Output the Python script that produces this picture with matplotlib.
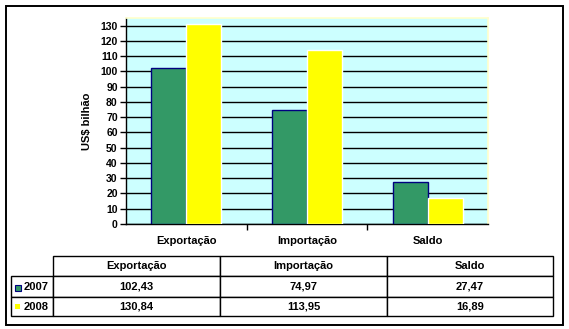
import matplotlib.pyplot as plt
from matplotlib.patches import Rectangle
from matplotlib.table import Table
import numpy as np

categories = ["Exportação", "Importação", "Saldo"]
years = ["2007", "2008"]
values_2007 = [102.43, 74.97, 27.47]
values_2008 = [130.84, 113.95, 16.89]
colors = ["#339966", "#FFFF00"]
edges = ["#000080", "#FFFFFF"]

W, H = 569, 329
plt.rcParams["font.family"] = ["Liberation Sans", "DejaVu Sans"]
plt.rcParams["font.weight"] = "bold"
plt.rcParams["axes.labelweight"] = "bold"
plt.rcParams["font.size"] = 7

fig = plt.figure(figsize=(W / 100, H / 100), dpi=100)


def px_box(x0, y0, x1, y1):
    # pixel box (top-left origin) -> figure fraction [left, bottom, width, height]
    return [x0 / W, 1 - y1 / H, (x1 - x0) / W, (y1 - y0) / H]


# outer frame
fig.patches.append(Rectangle((5.5 / W, 1 - 324.5 / H), 557.5 / W, 319 / H,
                             transform=fig.transFigure, fill=False,
                             edgecolor="black", linewidth=1.4))

ax = fig.add_axes(px_box(126, 18, 488, 224))
ax.set_facecolor("#CCFFFF")
x = np.arange(len(categories))
w = 0.29
ax.bar(x - w / 2, values_2007, w, color=colors[0], edgecolor=edges[0], linewidth=1, zorder=3)
ax.bar(x + w / 2, values_2008, w, color=colors[1], edgecolor=edges[1], linewidth=1, zorder=3)
ax.set_xlim(-0.5, 2.5)
ax.set_ylim(0, 135)
ax.set_yticks(np.arange(0, 131, 10))
ax.yaxis.grid(True, color="black", linewidth=1.0, zorder=1)
ax.set_axisbelow(True)
ax.set_xticks([0.5, 1.5])
ax.set_xticklabels([])
ax.set_xticks(x, minor=True)
ax.set_xticklabels(categories, minor=True, fontsize=8)
ax.tick_params(axis="x", which="minor", length=0, pad=9)
ax.tick_params(axis="x", which="major", length=4, direction="out", width=1)
ax.tick_params(axis="y", length=4, width=1, pad=2, labelsize=7.5)
for s in ["top", "right"]:
    ax.spines[s].set_color("#FFFFCC")
    ax.spines[s].set_linewidth(1.2)
for s in ["left", "bottom"]:
    ax.spines[s].set_color("black")
    ax.spines[s].set_linewidth(1)
ax.set_ylabel("US$ bilhão", fontsize=8, labelpad=6)

# data table
tax = fig.add_axes(px_box(11, 256, 553, 316))
tax.set_xlim(0, 542)
tax.set_ylim(0, 60)
tax.axis("off")
tbl = Table(tax, bbox=[0, 0, 1, 1])
col_w = [42, 167, 167, 166]
row_h = [20, 21, 19]
rows = [[""] + categories,
        [years[0]] + [f"{v:.2f}".replace(".", ",") for v in values_2007],
        [years[1]] + [f"{v:.2f}".replace(".", ",") for v in values_2008]]
for r, row in enumerate(rows):
    for c, txt in enumerate(row):
        cell = tbl.add_cell(r, c, width=col_w[c], height=row_h[r], text=txt,
                            loc="right" if c == 0 else "center",
                            edgecolor="black", facecolor="white")
        cell.set_linewidth(1)
        cell.get_text().set_fontsize(8)
        cell.get_text().set_fontweight("bold")
        if r == 0 and c == 0:
            cell.visible_edges = "BR"
            cell.set_linewidth(0)
            cell.set_edgecolor("white")
tbl.auto_set_font_size(False)
tax.add_table(tbl)
# legend keys in the row label cells
tax.add_patch(Rectangle((4, 25.5), 6, 6, facecolor=colors[0], edgecolor=edges[0], linewidth=0.8))
tax.add_patch(Rectangle((4, 7), 5, 5, facecolor=colors[1], edgecolor="none"))

fig.savefig("out.png", dpi=100)
